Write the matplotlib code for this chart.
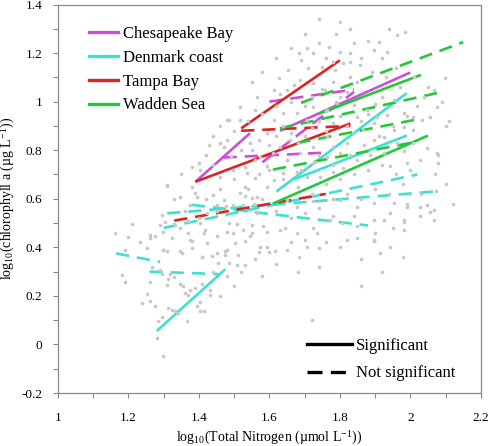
import matplotlib

matplotlib.use("Agg")

import matplotlib.pyplot as plt
import numpy as np
from matplotlib.lines import Line2D
from matplotlib.ticker import FuncFormatter, MultipleLocator

plt.rcParams["font.family"] = ["Liberation Serif", "DejaVu Serif"]
plt.rcParams["mathtext.fontset"] = "stix"

SITE_NAMES = ["Chesapeake Bay", "Denmark coast", "Tampa Bay", "Wadden Sea"]
SITE_COLORS = ["#cc4fd8", "#40e0d0", "#dd2222", "#22c83a"]
POINT_COLOR = "#c8c8c8"
AXIS_GRAY = "#888888"

# station values: (log10 TN, log10 chl a)
stations = [
    (1.309, 0.654), (1.380, 0.650), (1.389, 0.623), (1.441, 0.616), (1.531, 0.648),
    (1.531, 0.613), (1.550, 0.602), (1.209, 0.497), (1.162, 0.461), (1.200, 0.442),
    (1.233, 0.421), (1.261, 0.449), (1.276, 0.447), (1.254, 0.399), (1.190, 0.390),
    (1.299, 0.387), (1.309, 0.386), (1.323, 0.438), (1.380, 0.427), (1.351, 0.376),
    (1.380, 0.397), (1.413, 0.458), (1.422, 0.417), (1.410, 0.362), (1.437, 0.365),
    (1.451, 0.376), (1.474, 0.386), (1.474, 0.369), (1.455, 0.335), (1.503, 0.417),
    (1.531, 0.424), (1.531, 0.328), (1.571, 0.380), (1.266, 0.319), (1.290, 0.307),
    (1.295, 0.291), (1.183, 0.287), (1.190, 0.259), (1.261, 0.259), (1.313, 0.269),
    (1.318, 0.289), (1.330, 0.277), (1.309, 0.246), (1.347, 0.250), (1.354, 0.242),
    (1.375, 0.225), (1.389, 0.232), (1.370, 0.205), (1.361, 0.212), (1.432, 0.225),
    (1.432, 0.205), (1.254, 0.209), (1.238, 0.170), (1.261, 0.177), (1.274, 0.159),
    (1.403, 0.173), (1.394, 0.159), (1.313, 0.150), (1.323, 0.143), (1.332, 0.136),
    (1.342, 0.129), (1.295, 0.115), (1.285, 0.095), (1.403, 0.136), (1.415, 0.136),
    (1.366, 0.095), (1.280, 0.026), (1.299, -0.049), (1.508, 0.328), (1.526, 0.575),
    (1.555, 0.578), (1.564, 0.541), (1.550, 0.493), (1.550, 0.458), (1.508, 0.495),
    (1.479, 0.465), (1.484, 0.500), (1.370, 0.458), (1.370, 0.509), (1.295, 0.534),
    (1.290, 0.493), (1.304, 0.506), (1.328, 0.497), (1.375, 0.575), (1.451, 0.575),
    (1.476, 0.572), (1.498, 0.575), (1.422, 0.541), (1.347, 0.479), (1.418, 0.472),
    (1.962, 1.274), (1.986, 1.288), (1.896, 1.213), (1.910, 1.247), (1.934, 1.206),
    (1.839, 1.240), (1.768, 1.226), (1.801, 1.206), (1.810, 1.158), (1.830, 1.165),
    (1.706, 1.220), (1.683, 1.199), (1.725, 1.199), (1.749, 1.144), (1.782, 1.165),
    (1.787, 1.130), (1.830, 1.103), (1.858, 1.151), (1.626, 1.096), (1.654, 1.130),
    (1.612, 1.048), (1.564, 1.021), (1.517, 0.979), (1.479, 0.925), (1.560, 0.966),
    (1.650, 1.048), (1.688, 1.089), (1.725, 1.076), (1.759, 1.048), (1.801, 1.021),
    (1.839, 0.986), (1.877, 0.966), (1.905, 0.938), (1.934, 0.945), (1.953, 1.007),
    (1.981, 0.952), (2.009, 0.938), (2.033, 0.925), (2.057, 0.938), (2.099, 1.096),
    (2.066, 1.048), (2.076, 0.979), (2.047, 0.808), (2.076, 0.788), (2.080, 0.747),
    (2.028, 0.760), (1.991, 0.747), (1.943, 0.733), (1.924, 0.788), (1.886, 0.781),
    (1.849, 0.760), (1.810, 0.726), (1.782, 0.712), (1.744, 0.691), (1.706, 0.691),
    (1.678, 0.712), (1.640, 0.705), (1.612, 0.678), (1.593, 0.650), (1.560, 0.685),
    (1.536, 0.705), (1.498, 0.719), (1.460, 0.691), (1.441, 0.740), (1.403, 0.719),
    (1.399, 0.747), (1.460, 0.829), (1.470, 0.815), (1.484, 0.925), (1.517, 0.925),
    (1.545, 0.829), (1.593, 0.870), (1.612, 0.925), (1.640, 0.952), (1.678, 0.952),
    (1.706, 0.925), (1.725, 0.979), (1.763, 0.966), (1.791, 0.993), (1.631, 0.815),
    (1.659, 0.842), (1.688, 0.788), (1.725, 0.815), (1.763, 0.856), (1.782, 0.815),
    (1.801, 0.788), (1.820, 0.829), (1.763, 0.774), (1.725, 0.747), (1.650, 0.760),
    (1.593, 0.733), (1.574, 0.774), (1.896, 0.842), (1.924, 0.856), (1.953, 0.884),
    (1.981, 0.897), (2.009, 0.884), (1.867, 0.884), (1.849, 0.938), (1.896, 0.911),
    (1.962, 0.829), (2.009, 0.829), (1.981, 0.795), (1.309, 0.657), (1.347, 0.609),
    (1.394, 0.609), (1.470, 0.596), (1.517, 0.623), (1.564, 0.609), (1.650, 0.596),
    (1.678, 0.568), (1.725, 0.589), (1.801, 0.596), (1.849, 0.568), (1.896, 0.582),
    (1.953, 0.582), (1.991, 0.568), (2.047, 0.575), (2.066, 0.554), (2.028, 0.527),
    (1.981, 0.513), (1.943, 0.541), (1.896, 0.513), (1.839, 0.527), (1.782, 0.527),
    (1.735, 0.458), (1.678, 0.458), (1.631, 0.472), (1.583, 0.486), (1.545, 0.445),
    (1.498, 0.458), (1.451, 0.445), (1.403, 0.500), (1.820, 0.431), (1.896, 0.431),
    (1.915, 0.376), (1.981, 0.472), (2.066, 0.513), (1.650, 0.390), (1.593, 0.403),
    (1.479, 0.390), (1.299, 0.390), (1.347, 0.383), (1.408, 0.362), (1.512, 0.369),
    (1.574, 0.403), (1.616, 0.383), (1.683, 0.362), (1.706, 0.403), (1.740, 0.397),
    (1.896, 0.424), (1.943, 0.403), (1.981, 0.506), (2.028, 0.568), (2.057, 0.547),
    (2.080, 0.781), (2.074, 0.630), (1.261, 0.438), (1.299, 0.465), (1.375, 0.431),
    (1.526, 0.472), (1.593, 0.465), (1.645, 0.479), (1.725, 0.479), (1.773, 0.513),
    (1.806, 0.500), (1.849, 0.486), (1.924, 0.513), (1.484, 0.335), (1.740, 1.340),
    (1.800, 1.330), (1.830, 1.300), (1.700, 1.280), (1.660, 1.220), (1.620, 1.180),
    (1.580, 1.120), (1.550, 1.080), (1.940, 1.300), (2.120, 0.580), (2.100, 0.900),
    (1.550, 0.800), (1.570, 0.840), (1.600, 0.820), (1.620, 0.860), (1.640, 0.900),
    (1.660, 0.870), (1.680, 0.830), (1.700, 0.860), (1.720, 0.890), (1.740, 0.920),
    (1.760, 0.880), (1.780, 0.910), (1.800, 0.940), (1.820, 0.900), (1.840, 0.870),
    (1.860, 0.920), (1.880, 0.950), (1.900, 0.990), (1.920, 1.020), (1.700, 0.980),
    (1.720, 1.020), (1.750, 1.050), (1.780, 1.080), (1.660, 1.000), (1.620, 0.980),
    (1.580, 0.950), (1.540, 0.920), (1.500, 0.880), (1.480, 0.840), (1.520, 0.800),
    (1.560, 0.760), (1.600, 0.720), (1.640, 0.680), (1.680, 0.650), (1.720, 0.620),
    (1.760, 0.660), (1.800, 0.680), (1.840, 0.700), (1.880, 0.720), (1.920, 0.740),
    (1.960, 0.700), (2.000, 0.720), (1.980, 0.660), (1.940, 0.620), (1.900, 0.640),
    (1.860, 0.600), (1.820, 0.620), (1.780, 0.600), (1.740, 0.560), (1.700, 0.540),
    (1.660, 0.520), (1.620, 0.550), (1.580, 0.600), (1.540, 0.640), (1.500, 0.680),
    (1.460, 0.640), (1.420, 0.600), (1.450, 0.550), (1.400, 0.520), (1.360, 0.550),
    (1.330, 0.600), (1.350, 0.700), (1.380, 0.730), (1.420, 0.780), (1.440, 0.860),
    (1.460, 0.900), (1.430, 0.820), (1.740, 0.780), (1.780, 0.740), (1.830, 0.780),
    (1.870, 0.820), (1.910, 0.860), (1.950, 0.900), (1.990, 0.940), (2.020, 0.980),
    (2.040, 1.020), (1.970, 1.060), (1.930, 1.100), (1.890, 1.120), (1.850, 1.080),
    (1.820, 1.040), (1.790, 1.000), (1.760, 0.960), (1.730, 0.750), (1.690, 0.720),
    (1.650, 0.760), (1.610, 0.790), (1.570, 0.700), (1.530, 0.730), (1.490, 0.770),
    (1.860, 1.180), (1.830, 1.200), (1.760, 1.180), (1.710, 1.140), (1.670, 1.070),
    (1.630, 1.030), (1.690, 1.170), (1.740, 1.240), (1.790, 1.280), (1.880, 1.250),
    (1.920, 1.180), (1.960, 1.140), (2.010, 1.100), (2.050, 1.060), (2.090, 1.000),
    (2.110, 0.920), (2.070, 0.700), (2.100, 0.660), (2.030, 0.620), (1.990, 0.580),
    (1.950, 0.480), (1.900, 0.460), (1.850, 0.440), (1.800, 0.400), (1.760, 0.420),
    (1.700, 0.430), (1.660, 0.420), (1.600, 0.380), (1.560, 0.350), (1.520, 0.300),
    (1.480, 0.280), (1.440, 0.300), (1.410, 0.250), (1.460, 0.200), (1.500, 0.240),
    (1.580, 0.280), (1.620, 0.330), (1.680, 0.300), (1.740, 0.320), (1.860, 0.350),
    (1.920, 0.300), (1.980, 0.360), (1.720, 0.100), (1.860, 0.240),
]

# regression lines per site: (start, end) of log10 TN and log10 chl a
ches_tn = [(1.39, 1.545), (1.63, 2.00), (1.60, 1.84), (1.58, 1.84), (1.47, 1.76)]
ches_chl = [(0.67, 0.87), (0.88, 1.12), (1.00, 1.05), (0.75, 1.04), (0.77, 0.79)]
ches_sig = [True, True, False, False, False]

denm_tn = [(1.28, 1.475), (1.26, 1.455), (1.165, 1.29), (1.30, 2.02),
           (1.31, 2.07), (1.38, 1.88), (1.62, 1.99), (1.67, 1.99)]
denm_chl = [(0.055, 0.31), (0.30, 0.29), (0.375, 0.34), (0.48, 0.70),
            (0.54, 0.63), (0.575, 0.49), (0.63, 1.035), (0.68, 0.86)]
denm_sig = [True, False, False, False, False, False, True, True]

tampa_tn = [(1.52, 1.80), (1.52, 1.83), (1.39, 1.83), (1.33, 1.76)]
tampa_chl = [(0.89, 1.17), (0.88, 0.90), (0.67, 0.91), (0.51, 0.62)]
tampa_sig = [True, False, True, False]

wadden_tn = [(1.61, 2.05), (1.69, 2.15), (1.74, 2.03), (1.63, 2.09),
             (1.68, 2.03), (1.61, 2.00)]
wadden_chl = [(0.58, 0.86), (0.995, 1.245), (0.95, 1.11), (0.89, 1.04),
              (0.83, 0.93), (0.72, 0.83)]
wadden_sig = [True, False, True, False, False, False]

site_lines = [
    (ches_tn, ches_chl, ches_sig),
    (denm_tn, denm_chl, denm_sig),
    (tampa_tn, tampa_chl, tampa_sig),
    (wadden_tn, wadden_chl, wadden_sig),
]

DASHES = (5, 3)
LINE_WIDTH = 1.9


def tick_label(value, _pos):
    return f"{round(value, 1) + 0:g}"


fig = plt.figure(figsize=(4.9, 4.46), dpi=100)
ax = fig.add_axes([0.1184, 0.1188, 0.8627, 0.8711])

for color, (tn_pairs, chl_pairs, sig_flags) in zip(SITE_COLORS, site_lines):
    for tn, chl, sig in zip(tn_pairs, chl_pairs, sig_flags):
        line, = ax.plot(tn, chl, color=color, lw=LINE_WIDTH,
                        solid_capstyle="butt", zorder=2)
        if not sig:
            line.set_dashes(DASHES)

points = np.array(stations)
ax.scatter(points[:, 0], points[:, 1], s=7, color=POINT_COLOR,
           linewidths=0, zorder=3)

ax.set_xlim(1.0, 2.2)
ax.set_ylim(-0.2, 1.4)
ax.xaxis.set_major_locator(MultipleLocator(0.2))
ax.xaxis.set_minor_locator(MultipleLocator(0.1))
ax.yaxis.set_major_locator(MultipleLocator(0.2))
ax.yaxis.set_minor_locator(MultipleLocator(0.1))
ax.xaxis.set_major_formatter(FuncFormatter(tick_label))
ax.yaxis.set_major_formatter(FuncFormatter(tick_label))
ax.tick_params(which="both", direction="out", length=3.5, width=0.8,
               color=AXIS_GRAY, labelsize=9.5)
ax.tick_params(axis="x", pad=10)
ax.tick_params(axis="y", pad=8)
for spine in ax.spines.values():
    spine.set_color(AXIS_GRAY)
    spine.set_linewidth(0.9)

ax.set_xlabel(r"log$_{\mathregular{10}}$(Total Nitrogen (µmol L$^{\mathregular{-1}}$))",
              fontsize=10)
ax.set_ylabel(r"log$_{\mathregular{10}}$(chlorophyll a (µg L$^{\mathregular{-1}}$))",
              fontsize=10)
ax.xaxis.set_label_coords(0.5, -0.093)
ax.yaxis.set_label_coords(-0.097, 0.5)

site_handles = [Line2D([], [], color=c, lw=2.4) for c in SITE_COLORS]
site_legend = ax.legend(site_handles, SITE_NAMES, loc="upper left",
                        bbox_to_anchor=(0.073, 0.945), frameon=False,
                        fontsize=12, handlelength=1.75, handletextpad=0.3,
                        labelspacing=0.47, borderpad=0, borderaxespad=0)
ax.add_artist(site_legend)

sig_handle = Line2D([], [], color="black", lw=2.4)
nonsig_handle = Line2D([], [], color="black", lw=2.4, dashes=(4.5, 2.5))
ax.legend([sig_handle, nonsig_handle], ["Significant", "Not significant"],
          loc="lower left", bbox_to_anchor=(0.589, 0.03), frameon=False,
          fontsize=12, handlelength=2.7, handletextpad=0.25,
          labelspacing=0.7, borderpad=0, borderaxespad=0)

fig.savefig("out.png", dpi=100)
